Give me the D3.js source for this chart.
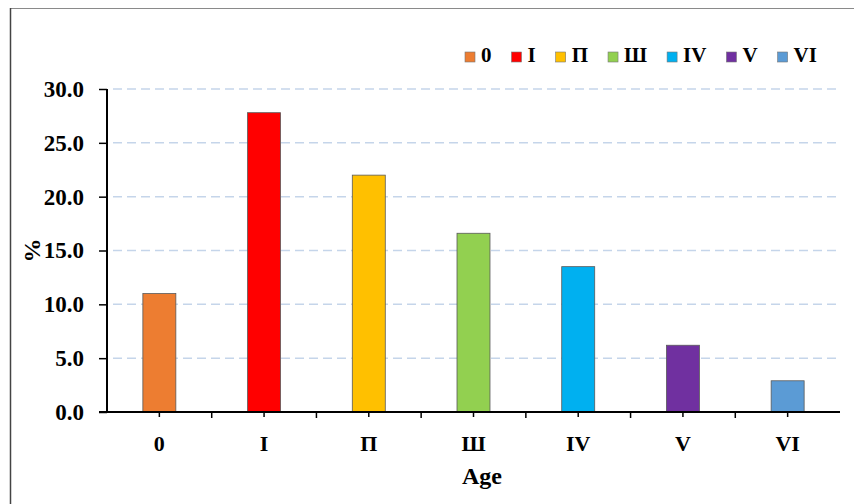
<!DOCTYPE html>
<html><head><meta charset="utf-8">
<script src="https://cdn.jsdelivr.net/npm/d3@7"></script>
<style>html,body{margin:0;padding:0;background:#fff;}svg{display:block;}</style>
</head><body>
<svg id="c" width="854" height="504"></svg>
<script>
const categories = ["0", "I", "П", "Ш", "IV", "V", "VI"];
const values = [11.0, 27.8, 22.0, 16.6, 13.5, 6.2, 2.9];
const colors = ["#ED7D31", "#FF0000", "#FFC000", "#92D050", "#00B0F0", "#7030A0", "#5B9BD5"];
const yTicks = [0, 5, 10, 15, 20, 25, 30];
const xTitle = "Age";
const yTitle = "%";

const svg = d3.select("#c");
const font = "'Liberation Serif','Times New Roman',serif";
const L = 107, R = 840, T = 89, B = 412;

// frame
svg.append("line").attr("x1", 10).attr("x2", 854).attr("y1", 8.5).attr("y2", 8.5).attr("stroke", "#8a8a8a").attr("stroke-width", 1);
svg.append("line").attr("x1", 10.5).attr("x2", 10.5).attr("y1", 8).attr("y2", 504).attr("stroke", "#444").attr("stroke-width", 1.5);

const x = d3.scaleBand().domain(categories).range([L, R]).paddingInner(0.685).paddingOuter(0.3425);
const xb = d3.scaleBand().domain(categories).range([L, R]).padding(0);
const y = d3.scaleLinear().domain([0, 30]).range([B, T]);

// gridlines
svg.append("g").selectAll("line").data(yTicks.filter(d => d > 0)).join("line")
  .attr("x1", L + 6).attr("x2", R).attr("y1", d => y(d)).attr("y2", d => y(d))
  .attr("stroke", "#c5d5ea").attr("stroke-width", 1.5).attr("stroke-dasharray", "9,5");

// bars
svg.append("g").selectAll("rect").data(values).join("rect")
  .attr("x", (d, i) => x(categories[i])).attr("width", x.bandwidth())
  .attr("y", d => y(d)).attr("height", d => B - y(d))
  .attr("fill", (d, i) => colors[i]).attr("stroke", "#5a5a5a").attr("stroke-width", 0.8);

// y axis
const ya = svg.append("g").attr("transform", `translate(${L},0)`)
  .call(d3.axisLeft(y).tickValues(yTicks).tickFormat(d3.format(".1f")).tickSize(8).tickPadding(15));
ya.select(".domain").attr("stroke", "#000").attr("stroke-width", 2).attr("d", `M-8,${B}H0V${T}`);
ya.selectAll(".tick line").attr("stroke", "#000").attr("stroke-width", 1.5);
ya.selectAll("text").attr("font-family", font).attr("font-weight", "bold").attr("font-size", 23).attr("fill", "#000");

// x axis
const xa = svg.append("g").attr("transform", `translate(0,${B})`)
  .call(d3.axisBottom(x).tickSize(5).tickPadding(18));
xa.select(".domain").attr("stroke", "#000").attr("stroke-width", 2).attr("d", `M${L},0H${R}`);
xa.selectAll(".tick line").attr("stroke", "#000").attr("stroke-width", 1.5);
xa.selectAll("text").attr("font-family", font).attr("font-weight", "bold").attr("font-size", 22).attr("fill", "#000");
// boundary ticks
svg.append("g").selectAll("line").data(categories.slice(1)).join("line")
  .attr("x1", d => xb(d)).attr("x2", d => xb(d)).attr("y1", B).attr("y2", B + 6)
  .attr("stroke", "#000").attr("stroke-width", 1.5);

// titles
svg.append("text").attr("x", 482).attr("y", 484).attr("text-anchor", "middle")
  .attr("font-family", font).attr("font-weight", "bold").attr("font-size", 24).text(xTitle);
svg.append("text").attr("transform", `translate(40,${(T + B) / 2}) rotate(-90)`).attr("text-anchor", "middle")
  .attr("font-family", font).attr("font-weight", "bold").attr("font-size", 24).text(yTitle);

// legend
const lg = svg.append("g");
let lx = 465;
categories.forEach((c, i) => {
  lg.append("rect").attr("x", lx).attr("y", 52).attr("width", 10).attr("height", 10)
    .attr("fill", colors[i]).attr("stroke", "#777").attr("stroke-width", 0.6);
  const t = lg.append("text").attr("x", lx + 16).attr("y", 62)
    .attr("font-family", font).attr("font-weight", "bold").attr("font-size", 21).text(c);
  lx += 16 + t.node().getComputedTextLength() + 20;
});
</script>
</body></html>
